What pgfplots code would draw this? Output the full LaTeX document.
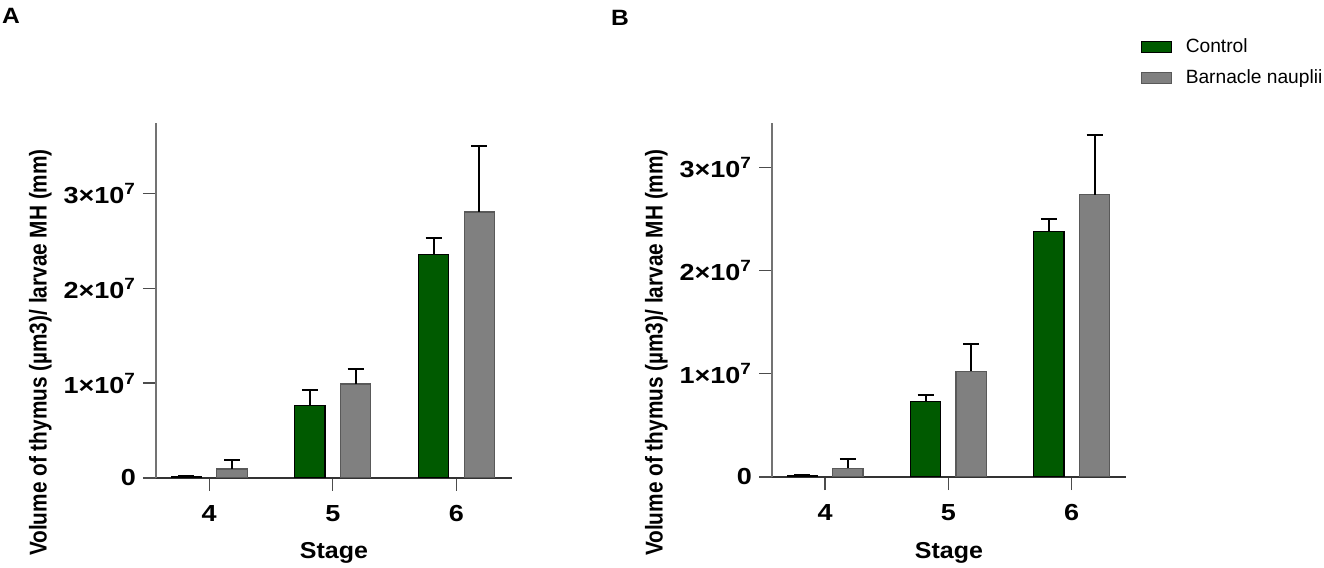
\documentclass[border=0pt]{standalone}
\usepackage{fontspec}
\setmainfont{Liberation Sans}
\usepackage{graphicx}
\usepackage{pgfplots}
\usepackage{pgfplotstable}
\pgfplotsset{compat=1.18}
\definecolor{ctrl}{RGB}{0,90,0}
\definecolor{barn}{RGB}{128,128,128}
\newcommand\vs[1]{\scalebox{1}[0.86]{#1}}
\newcommand\tk{\fontsize{13.5}{13.5}\selectfont\bfseries}

% panel A
\pgfplotstableread{
x c ce b be
0 2.0e5 0.3e5 9.5e5 9.5e5
1 7.6e6 1.7e6 9.9e6 1.57e6
2 2.358e7 1.68e6 2.803e7 6.95e6
}\dataA
% panel B
\pgfplotstableread{
x c ce b be
0 1.6e5 0.4e5 8.4e5 9.1e5
1 7.35e6 5.5e5 1.023e7 2.65e6
2 2.382e7 1.13e6 2.735e7 5.76e6
}\dataB

\pgfplotsset{
 panel/.style={
  scale only axis, width=178pt, height=177.5pt,
  xmin=-0.43, xmax=2.45, ymin=0,
  axis x line*=bottom, axis y line*=left,
  x axis line style={black!80, line width=0.7pt, -},
  y axis line style={black!55, line width=0.7pt, -},
  xtick={0,1,2}, xticklabels={\vs{4},\vs{5},\vs{6}},
  ytick={0,1e7,2e7,3e7},
  yticklabels={\vs{0},\vs{1×10\textsuperscript{7}},\vs{2×10\textsuperscript{7}},\vs{3×10\textsuperscript{7}}},
  scaled y ticks=false,
  tick align=outside, major tick length=6.5pt,
  tick style={black!70, line width=0.6pt},
  ticklabel style={font=\tk},
  xticklabel style={yshift=-3.5pt},
  xlabel={\scalebox{1}[0.92]{Stage}},
  xlabel style={font=\fontsize{12.5}{12.5}\selectfont\bfseries, at={(axis description cs:0.5,-0.2258)}, anchor=base},
  ylabel={\scalebox{0.856}[1]{Volume of thymus (µm3)/ larvae MH (mm)}},
  ylabel style={font=\fontsize{12.15}{12.15}\selectfont\bfseries, at={(axis description cs:-0.307,0.3535)}, anchor=base},
 },
 errb/.style={
   error bars/y dir=plus, error bars/y explicit,
   error bars/error bar style={black, line width=1pt},
   error bars/error mark options={rotate=90, mark size=4pt, black, line width=1pt}},
 cbar/.style={ybar, bar width=0.245, bar shift=0, fill=ctrl, draw=black, line width=0.6pt, errb},
 bbar/.style={ybar, bar width=0.245, bar shift=0, fill=barn, draw=black!65, line width=0.6pt, errb},
}

\begin{document}
\begin{tikzpicture}
\useasboundingbox (0,0) rectangle (662pt,284pt);

\begin{axis}[panel, at={(78pt,45pt)}, anchor=south west, ymax=3.74e7]
\addplot[cbar] table[x expr=\thisrow{x}-0.185, y=c, y error=ce] {\dataA};
\addplot[bbar] table[x expr=\thisrow{x}+0.185, y=b, y error=be] {\dataA};
\end{axis}

\begin{axis}[panel, at={(386pt,45.5pt)}, anchor=south west, width=177pt, height=177pt, xmax=2.44, ymax=3.43e7,
  ylabel style={at={(axis description cs:-0.309,0.3517)}},
  xlabel style={at={(axis description cs:0.5,-0.229)}},
  legend style={at={(axis description cs:1.04,1.25)}, anchor=north west, draw=none, fill=none,
    font=\fontsize{9.6}{11}\selectfont, row sep=3pt, column sep=5pt, inner sep=0pt},
  legend cell align=left,
  legend image code/.code={\draw[#1] (0pt,-2.75pt) rectangle (15pt,2.75pt);}]
\addplot[cbar] table[x expr=\thisrow{x}-0.185, y=c, y error=ce] {\dataB};
\addlegendentry{Control}
\addplot[bbar] table[x expr=\thisrow{x}+0.185, y=b, y error=be] {\dataB};
\addlegendentry{Barnacle nauplii}
\end{axis}

\node[font=\fontsize{12.3}{12.3}\selectfont\bfseries] at (5.5pt,276pt) {\scalebox{1}[0.9]{A}};
\node[font=\fontsize{12.3}{12.3}\selectfont\bfseries] at (310pt,275pt) {\scalebox{1}[0.9]{B}};
\end{tikzpicture}
\end{document}
